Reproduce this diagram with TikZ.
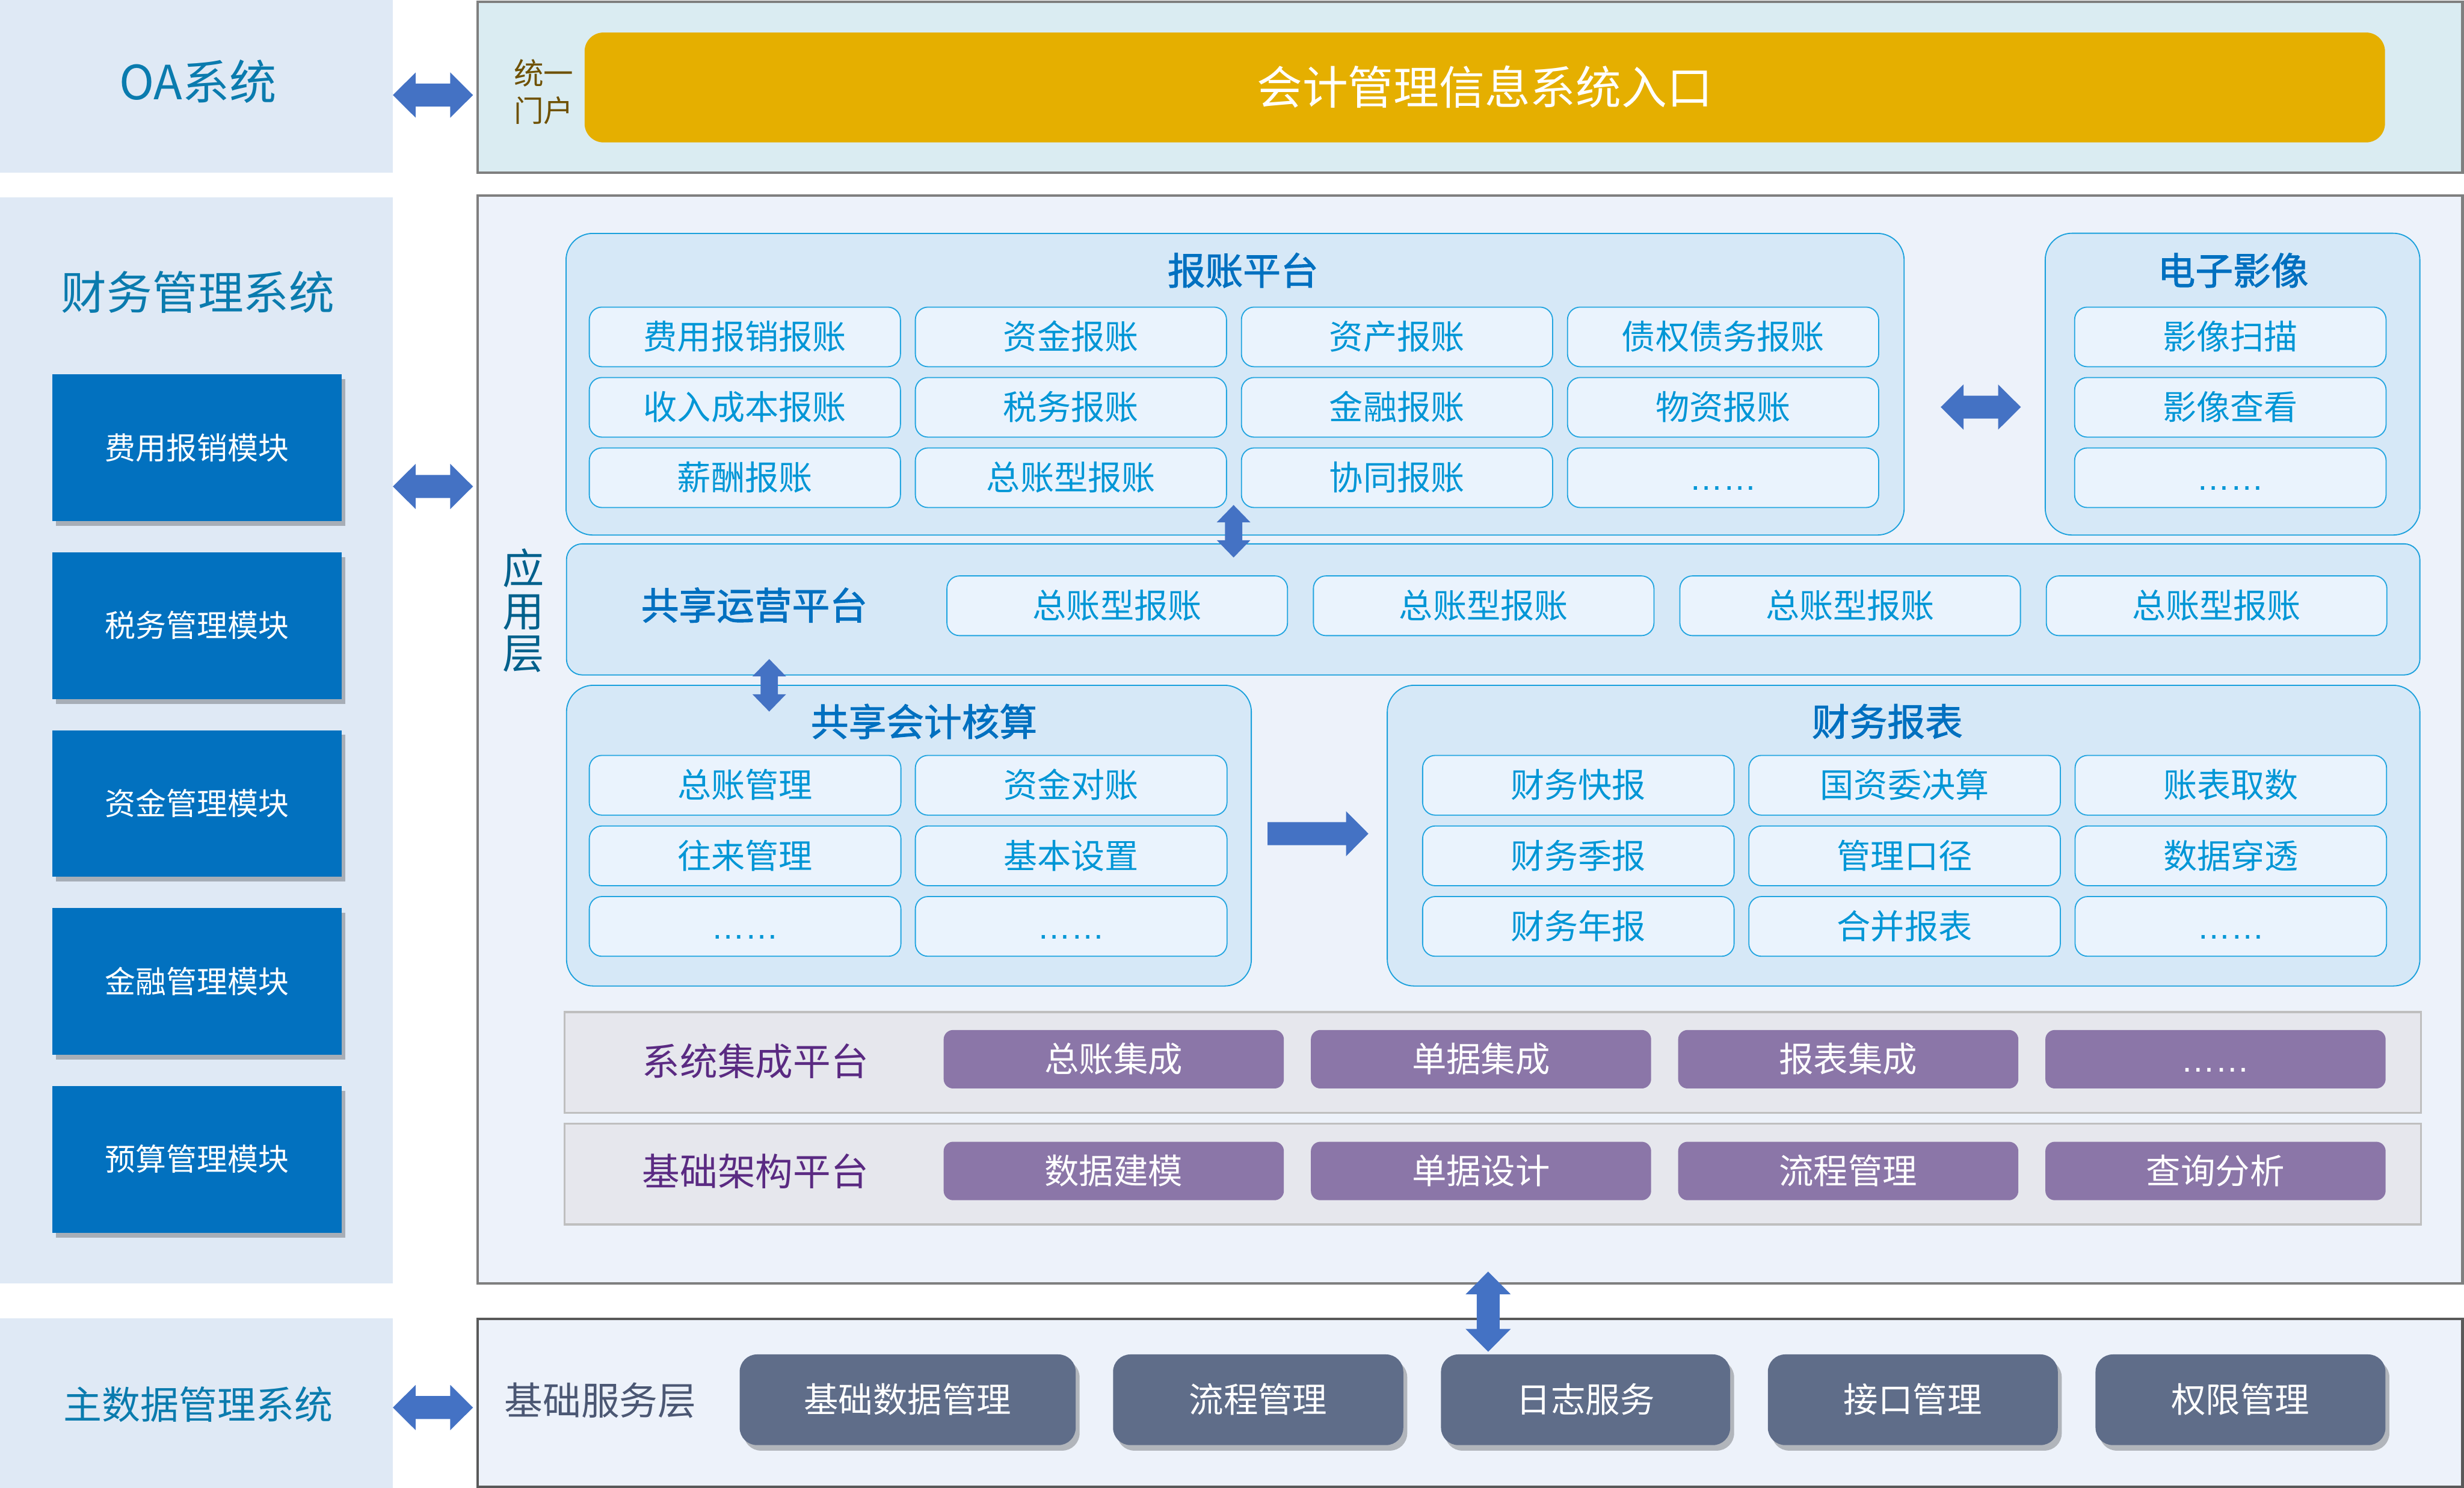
\documentclass[tikz,border=0pt]{standalone}
\usepackage{fontspec}
\newfontfamily\cjk{Noto Sans CJK SC}
\newfontfamily\cjkfb{Noto Sans CJK SC}[FakeBold=1.6]
\newfontfamily\latn{Liberation Sans}
\usetikzlibrary{calc,shadows}
\definecolor{leftbg}{HTML}{DFE9F5}
\definecolor{oatxt}{HTML}{0A7BAE}
\definecolor{modblue}{HTML}{0271BF}
\definecolor{arrowc}{HTML}{4472C4}
\definecolor{portalbg}{HTML}{DAECF2}
\definecolor{grayedge}{HTML}{7F7F7F}
\definecolor{goldc}{HTML}{E5AF00}
\definecolor{browntxt}{HTML}{6E5000}
\definecolor{appbg}{HTML}{EDF2FA}
\definecolor{panelbg}{HTML}{D6E8F7}
\definecolor{paneledge}{HTML}{1AA0DC}
\definecolor{subbg}{HTML}{EAF3FD}
\definecolor{subedge}{HTML}{22A5E0}
\definecolor{subtxt}{HTML}{0096D6}
\definecolor{titletxt}{HTML}{0070C0}
\definecolor{layertxt}{HTML}{00608C}
\definecolor{graypanel}{HTML}{E6E7ED}
\definecolor{graypaneledge}{HTML}{BFBFBF}
\definecolor{purpletxt}{HTML}{5A2A82}
\definecolor{purplebtn}{HTML}{8B76A8}
\definecolor{baseedge}{HTML}{595959}
\definecolor{basetxt}{HTML}{4B5773}
\definecolor{basebtn}{HTML}{5F6D89}
\newcommand{\fs}[1]{\fontsize{#1}{#1}\selectfont}
\newcommand{\dotsx}{{\latn ……}}
\newcommand{\bx}[7]{\node[#1,minimum width={(#5)-(#3)},minimum height={(#6)-(#4)}] (#2) at ({((#3)+(#5))/2},{((#4)+(#6))/2}) {#7};}
\newcommand{\harr}[1]{\fill[arrowc] ($(#1)+(-25.5,0)$) -- ++(14.5,-14.4) -- ++(0,7.1) -- ++(22,0) -- ++(0,-7.1) -- ++(14.5,14.4) -- ++(-14.5,14.4) -- ++(0,-7.1) -- ++(-22,0) -- ++(0,7.1) -- cycle;}
\newcommand{\varr}[1]{\fill[arrowc] ($(#1)+(0,-25.5)$) -- ++(14.4,14.5) -- ++(-7.1,0) -- ++(0,22) -- ++(7.1,0) -- ++(-14.4,14.5) -- ++(-14.4,-14.5) -- ++(7.1,0) -- ++(0,-22) -- ++(-7.1,0) -- cycle;}
\newcommand{\svarr}[1]{\fill[arrowc] ($(#1)+(0,-16.7)$) -- ++(10.7,11) -- ++(-5.2,0) -- ++(0,11.4) -- ++(5.2,0) -- ++(-10.7,11) -- ++(-10.7,-11) -- ++(5.2,0) -- ++(0,-11.4) -- ++(-5.2,0) -- cycle;}
\newcommand{\rarr}[1]{\fill[arrowc] ($(#1)+(-32.1,-7.3)$) -- ++(50,0) -- ++(0,-7) -- ++(14.2,14.3) -- ++(-14.2,14.3) -- ++(0,-7) -- ++(-50,0) -- cycle;}
\begin{document}
\begin{tikzpicture}[x=1pt,y=-1pt,
  lbox/.style={fill=leftbg,inner sep=0pt,outer sep=0pt},
  modbox/.style={fill=modblue,inner sep=0pt,text=white,font=\cjk\fs{19.5},text height=16.8pt,text depth=2.3pt,
     drop shadow={shadow xshift=2.5pt,shadow yshift=-3pt,opacity=0.25,fill=black}},
  portalbox/.style={fill=portalbg,draw=grayedge,line width=1.6pt,inner sep=0pt},
  goldbox/.style={fill=goldc,rounded corners=12pt,inner sep=0pt,text=white,font=\cjk\fs{29},text height=24.9pt,text depth=3.5pt},
  appbox/.style={fill=appbg,draw=grayedge,line width=1.6pt,inner sep=0pt},
  panel/.style={fill=panelbg,draw=paneledge,line width=0.7pt,rounded corners=17pt,inner sep=0pt},
  flatpanel/.style={fill=panelbg,draw=paneledge,line width=0.7pt,rounded corners=10pt,inner sep=0pt},
  subbox/.style={fill=subbg,draw=subedge,line width=0.7pt,rounded corners=8pt,inner sep=0pt,text=subtxt,
     font=\cjk\fs{21.5},text height=18.5pt,text depth=2.6pt},
  ptitle/.style={text=titletxt,font=\cjkfb\fs{24},inner sep=0pt},
  graybox/.style={fill=graypanel,draw=graypaneledge,line width=1.2pt,inner sep=0pt},
  ptxt/.style={text=purpletxt,font=\cjk\fs{24},inner sep=0pt},
  pbtn/.style={fill=purplebtn,rounded corners=6pt,inner sep=0pt,text=white,font=\cjk\fs{22},text height=18.9pt,text depth=2.6pt},
  basebox/.style={fill=appbg,draw=baseedge,line width=1.6pt,inner sep=0pt},
  bbtn/.style={fill=basebtn,rounded corners=11pt,inner sep=0pt,text=white,font=\cjk\fs{22},text height=18.9pt,text depth=2.6pt,
     drop shadow={shadow xshift=2.5pt,shadow yshift=-3.5pt,opacity=0.25,fill=black}}
]
\useasboundingbox (0,0) rectangle (1568,946.65);
\fill[white] (0,0) rectangle (1568,946.65);

% ---------- left column ----------
\bx{lbox}{oa}{0}{0}{250}{110}{}
\node[text=oatxt,font=\cjk\fs{30},inner sep=0pt] (oat) at (126,52) {OA系统};
\bx{lbox}{fin}{0}{125.5}{250}{816.6}{}
\node[text=oatxt,font=\cjk\fs{29},inner sep=0pt] (fint) at (126,186) {财务管理系统};
\foreach \t [count=\i from 0] in {费用报销模块,税务管理模块,资金管理模块,金融管理模块,预算管理模块}{
  \pgfmathsetmacro\yt{238.2+113.2*\i}
  \pgfmathsetmacro\yb{\yt+93.3}
  \bx{modbox}{mod\i}{33.2}{\yt}{217.3}{\yb}{\t}
}
\bx{lbox}{md}{0}{838.8}{250}{947}{}
\node[text=oatxt,font=\cjk\fs{24.5},inner sep=0pt] (mdt) at (126,893.5) {主数据管理系统};

% ---------- portal ----------
\bx{portalbox}{portal}{304}{1}{1567}{110}{}
\node[text=browntxt,font=\cjk\fontsize{19}{24}\selectfont,align=center,inner sep=0pt] (tymh) at (346,58.5) {统一\\门户};
\bx{goldbox}{entry}{372}{20.7}{1517.7}{90.6}{会计管理信息系统入口}

% ---------- application layer ----------
\bx{appbox}{app}{304}{124.3}{1567}{816.6}{}
\node[text=layertxt,font=\cjk\fontsize{26.5}{27}\selectfont,align=center,inner sep=0pt] (yyc) at (333,388.5) {应\\用\\层};

% 报账平台
\bx{panel}{bz}{360.2}{148.5}{1211.7}{340.4}{}
\node[ptitle] (bzt) at (791,172) {报账平台};
\foreach \t [count=\k from 0] in {费用报销报账,资金报账,资产报账,债权债务报账,收入成本报账,税务报账,金融报账,物资报账,薪酬报账,总账型报账,协同报账,\dotsx}{
  \pgfmathsetmacro\xl{375+207.5*mod(\k,4)}
  \pgfmathsetmacro\xr{\xl+198}
  \pgfmathsetmacro\yt{195.4+44.8*int(\k/4)}
  \pgfmathsetmacro\yb{\yt+37.9}
  \bx{subbox}{bz\k}{\xl}{\yt}{\xr}{\yb}{\t}
}
% 电子影像
\bx{panel}{ei}{1301.5}{148.4}{1539.9}{340.4}{}
\node[ptitle] (eit) at (1421,172) {电子影像};
\foreach \t [count=\k from 0] in {影像扫描,影像查看,\dotsx}{
  \pgfmathsetmacro\yt{195.4+44.8*\k}
  \pgfmathsetmacro\yb{\yt+37.9}
  \bx{subbox}{ei\k}{1320.2}{\yt}{1518.4}{\yb}{\t}
}
% 共享运营平台
\bx{flatpanel}{sy}{360.5}{346}{1539.9}{429.4}{}
\node[ptitle] (syt) at (480,385) {共享运营平台};
\foreach \k in {0,1,2,3}{
  \pgfmathsetmacro\xl{602.6+233.2*\k}
  \pgfmathsetmacro\xr{\xl+216.7}
  \bx{subbox}{sy\k}{\xl}{366.4}{\xr}{404.4}{总账型报账}
}
% 共享会计核算
\bx{panel}{hs}{360.5}{436}{796.3}{627.3}{}
\node[ptitle] (hst) at (588,459) {共享会计核算};
\foreach \t [count=\k from 0] in {总账管理,资金对账,往来管理,基本设置,\dotsx,\dotsx}{
  \pgfmathsetmacro\xl{375+207.5*mod(\k,2)}
  \pgfmathsetmacro\xr{\xl+198.3}
  \pgfmathsetmacro\yt{480.6+44.9*int(\k/2)}
  \pgfmathsetmacro\yb{\yt+38}
  \bx{subbox}{hs\k}{\xl}{\yt}{\xr}{\yb}{\t}
}
% 财务报表
\bx{panel}{cw}{882.8}{436}{1539.9}{627.3}{}
\node[ptitle] (cwt) at (1201,459) {财务报表};
\foreach \t [count=\k from 0] in {财务快报,国资委决算,账表取数,财务季报,管理口径,数据穿透,财务年报,合并报表,\dotsx}{
  \pgfmathsetmacro\xl{905.3+207.6*mod(\k,3)}
  \pgfmathsetmacro\xr{\xl+198.2}
  \pgfmathsetmacro\yt{480.6+44.9*int(\k/3)}
  \pgfmathsetmacro\yb{\yt+38}
  \bx{subbox}{cw\k}{\xl}{\yt}{\xr}{\yb}{\t}
}
% 系统集成平台
\bx{graybox}{ji}{359.4}{643.9}{1540.7}{707.9}{}
\node[ptxt] (jit) at (480.7,675) {系统集成平台};
\foreach \t [count=\k from 0] in {总账集成,单据集成,报表集成,\dotsx}{
  \pgfmathsetmacro\xl{600.5+233.7*\k}
  \pgfmathsetmacro\xr{\xl+216.5}
  \bx{pbtn}{ji\k}{\xl}{655.3}{\xr}{692.5}{\t}
}
% 基础架构平台
\bx{graybox}{jc}{359.4}{715}{1540.7}{779}{}
\node[ptxt] (jct) at (480.7,745) {基础架构平台};
\foreach \t [count=\k from 0] in {数据建模,单据设计,流程管理,查询分析}{
  \pgfmathsetmacro\xl{600.5+233.7*\k}
  \pgfmathsetmacro\xr{\xl+216.5}
  \bx{pbtn}{jc\k}{\xl}{726.4}{\xr}{763.6}{\t}
}

% ---------- base service layer ----------
\bx{basebox}{base}{304}{839.2}{1567}{946}{}
\node[text=basetxt,font=\cjk\fs{24.4},inner sep=0pt] (baset) at (382,891) {基础服务层};
\bx{bbtn}{bs0}{470.7}{861.7}{684.5}{919.4}{基础数据管理}
\bx{bbtn}{bs1}{708.3}{861.7}{893}{919.4}{流程管理}
\bx{bbtn}{bs2}{917}{861.7}{1101}{919.4}{日志服务}
\bx{bbtn}{bs3}{1125}{861.7}{1309.5}{919.4}{接口管理}
\bx{bbtn}{bs4}{1333.5}{861.7}{1518}{919.4}{权限管理}

% ---------- block arrows ----------
\coordinate (aoa) at (275.5,60.5);
\coordinate (afin) at (275.5,309.5);
\coordinate (amd) at (275.5,895.5);
\coordinate (aei) at (1260.5,259);
\coordinate (abzsy) at (785,338);
\coordinate (asyhs) at (489.5,436);
\coordinate (ahscw) at (838.7,530.4);
\coordinate (aappbase) at (947,834.5);
\harr{aoa}
\harr{afin}
\harr{amd}
\harr{aei}
\svarr{abzsy}
\svarr{asyhs}
\rarr{ahscw}
\varr{aappbase}
\end{tikzpicture}
\end{document}
